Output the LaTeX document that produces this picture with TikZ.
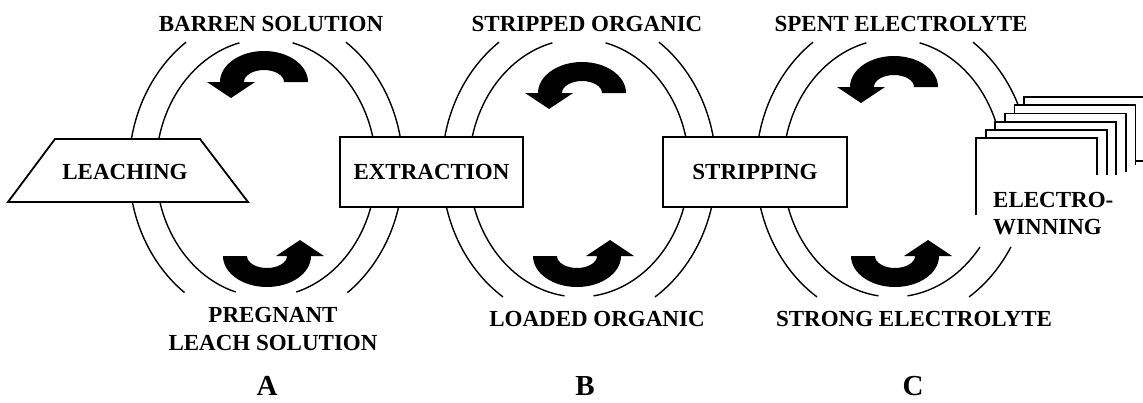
\documentclass[tikz,border=0pt]{standalone}
\usepackage{fontspec}
\setmainfont{Liberation Serif}
\usepackage{tikz}
\usetikzlibrary{positioning}

\begin{document}
\begin{tikzpicture}[x=1pt, y=-1pt,
    ring/.style={line width=1.4pt},
    procbox/.style={draw, line width=1.8pt, fill=white},
    sheet/.style={line width=1.8pt, line join=miter},
    lbl/.style={font=\bfseries\fontsize{23}{28.5}\selectfont, align=center, inner sep=0pt},
    stage/.style={font=\bfseries\fontsize{29}{34}\selectfont, inner sep=0pt}]
  \useasboundingbox (0,0) rectangle (1143,402);

  % Double rings of circuits A and B
  \foreach \cx/\bi/\bo in {266/74/53.5, 579/82.4/56.3} {
    \draw[ring] (\cx,168) ++(-76:110 and 129) arc[start angle=-76, end angle=\bi, x radius=110, y radius=129];
    \draw[ring] (\cx,168) ++({180-\bi}:110 and 129) arc[start angle={180-\bi}, end angle=256, x radius=110, y radius=129];
    \draw[ring] (\cx,168) ++(-54.3:137 and 155) arc[start angle=-54.3, end angle=\bo, x radius=137, y radius=155];
    \draw[ring] (\cx,168) ++({180-\bo}:137 and 155) arc[start angle={180-\bo}, end angle=234.3, x radius=137, y radius=155];
  }

  % Circuit C, broken on the right by the cells
  \draw[ring] (893,168) ++(-76:110 and 129) arc[start angle=-76, end angle=20, x radius=110, y radius=129];
  \draw[ring] (893,168) ++(37.8:110 and 129) arc[start angle=37.8, end angle=82.4, x radius=110, y radius=129];
  \draw[ring] (893,168) ++(97.6:110 and 129) arc[start angle=97.6, end angle=256, x radius=110, y radius=129];
  \draw[ring] (893,168) ++(-54.3:137 and 155) arc[start angle=-54.3, end angle=15, x radius=137, y radius=155];
  \draw[ring] (893,168) ++(30.6:137 and 155) arc[start angle=30.6, end angle=56.3, x radius=137, y radius=155];
  \draw[ring] (893,168) ++(123.7:137 and 155) arc[start angle=123.7, end angle=234.3, x radius=137, y radius=155];

  % Curved flow arrows
  \foreach \ax/\ay/\rot in {264/82/0, 267/256/180, 582/93/0, 577/256/180, 894/87/0, 895/256/180}
    \fill[shift={(\ax,\ay)}, rotate=\rot] (44,0) arc[start angle=0, end angle=-180, x radius=44, y radius=31]
      -- (-57,0) -- (-33,16) -- (-9,0) -- (-20,0)
      arc[start angle=180, end angle=360, x radius=20, y radius=12] -- cycle;

  % Process units
  \draw[procbox] (8,202) -- (55,139) -- (200,139) -- (248,202) -- cycle;
  \node[lbl] (leaching) at (125,172) {LEACHING};
  \node[procbox, lbl, minimum width=183pt, minimum height=70pt] (extraction) at (431.5,172) {EXTRACTION};
  \node[procbox, lbl, minimum width=184pt, minimum height=70pt] (stripping) at (755,172) {STRIPPING};

  % Electrowinning cells, back to front
  \draw[sheet, fill=white] (1024,161) -- (1024,97) -- (1145,97) -- (1145,161) -- cycle;
  \foreach \i/\b in {4/165, 3/172, 2/175, 1/175} {
    \fill[white] (976+9.6*\i, 138-8.2*\i) rectangle (1097+9.6*\i, \b);
    \draw[sheet] (976+9.6*\i, \b) -- (976+9.6*\i, 138-8.2*\i) -- (1097+9.6*\i, 138-8.2*\i) -- (1097+9.6*\i, \b);
  }
  \fill[white] (976,138) rectangle (1097,215);
  \draw[sheet] (976,215) -- (976,138) -- (1097,138) -- (1097,175);
  \node[lbl, align=left, anchor=west, font=\bfseries\fontsize{23}{27}\selectfont] (ew) at (993,213.5) {ELECTRO-\\WINNING};

  % Stream labels
  \node[lbl] (barren) at (271,23.5) {BARREN SOLUTION};
  \node[lbl] (pls) at (273,329) {PREGNANT\\LEACH SOLUTION};
  \node[lbl] (stripped) at (587,23.5) {STRIPPED ORGANIC};
  \node[lbl] (loaded) at (597,318.5) {LOADED ORGANIC};
  \node[lbl] (spent) at (901,23.5) {SPENT ELECTROLYTE};
  \node[lbl] (strong) at (914,318.5) {STRONG ELECTROLYTE};

  % Circuit letters
  \node[stage] (stageA) at (267,386) {A};
  \node[stage] (stageB) at (585,386) {B};
  \node[stage] (stageC) at (913,386) {C};
\end{tikzpicture}
\end{document}
